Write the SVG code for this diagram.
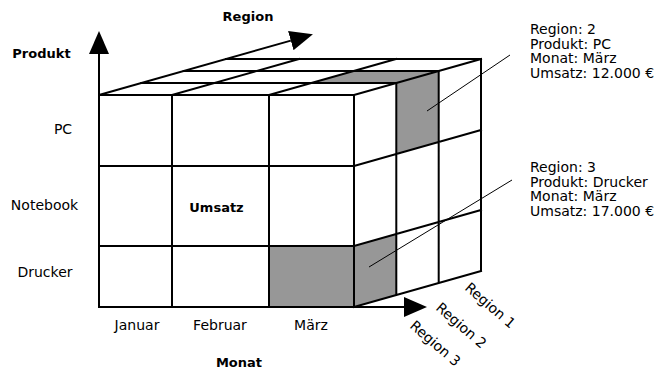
<svg xmlns="http://www.w3.org/2000/svg" width="660" height="370" viewBox="0 0 660 370">
  <style>
    .edge { fill: none; stroke: #000; stroke-width: 2; stroke-linecap: square; }
    .cell { fill: #979797; stroke: none; }
    .lead { fill: none; stroke: #000; stroke-width: 1; }
    .axis { fill: none; stroke: #000; stroke-width: 2; marker-end: url(#head); }
    text { font-family: "DejaVu Sans", "Liberation Sans", sans-serif; font-size: 14px; fill: #000; }
    .bold { font-weight: bold; font-size: 13px; }
    .mid { text-anchor: middle; }
  </style>
  <defs>
    <marker id="head" markerUnits="userSpaceOnUse" markerWidth="23" markerHeight="20" refX="0" refY="10" orient="auto">
      <path d="M0,0 L23,10 L0,20 Z" fill="#000"/>
    </marker>
  </defs>

  <!-- highlighted cells -->
  <g id="highlight-pc-maerz-r2">
    <polygon class="cell" points="311.3,83 396.3,83 438.7,71 353.7,71"/>
    <polygon class="cell" points="396.3,83 438.7,71 438.7,142 396.3,154"/>
  </g>
  <g id="highlight-drucker-maerz-r3">
    <rect class="cell" x="269" y="246" width="85" height="61"/>
    <polygon class="cell" points="354,246 396.3,234 396.3,295 354,307"/>
  </g>

  <!-- cube grid -->
  <g id="cube">
    <!-- front face -->
    <rect class="edge" x="99" y="95" width="255" height="212"/>
    <path class="edge" d="M99,166 H354 M99,246 H354 M172,95 V307 M269,95 V307"/>
    <!-- top face -->
    <path class="edge" d="M141.3,83 H396.3 M183.7,71 H438.7 M226,59 H481
                          M172,95 L299,59 M269,95 L396,59 M354,95 L481,59"/>
    <!-- right face -->
    <path class="edge" d="M396.3,83 V295 M438.7,71 V283 M481,59 V271
                          M354,166 L481,130 M354,246 L481,210 M354,307 L481,271"/>
  </g>

  <!-- axes -->
  <g id="axes">
    <line class="axis" x1="99" y1="95" x2="99" y2="54"/>
    <line class="axis" x1="99" y1="95" x2="290.8" y2="40.6"/>
    <line class="axis" x1="354" y1="307" x2="404" y2="307"/>
  </g>

  <!-- axis titles -->
  <g id="axis-titles">
    <text class="bold mid" x="248" y="21">Region</text>
    <text class="bold mid" x="41.5" y="58">Produkt</text>
    <text class="bold mid" x="239" y="367">Monat</text>
    <text class="bold mid" x="216.5" y="212">Umsatz</text>
  </g>

  <!-- product rows -->
  <g id="rows">
    <text class="mid" x="63" y="134">PC</text>
    <text class="mid" x="44.5" y="210">Notebook</text>
    <text class="mid" x="45" y="277">Drucker</text>
  </g>

  <!-- month columns -->
  <g id="months">
    <text class="mid" x="137" y="330">Januar</text>
    <text class="mid" x="220" y="330">Februar</text>
    <text class="mid" x="311" y="330">März</text>
  </g>

  <!-- region slices -->
  <g id="regions">
    <text transform="translate(464,289) rotate(41)">Region 1</text>
    <text transform="translate(435,309) rotate(41)">Region 2</text>
    <text transform="translate(409,327) rotate(41)">Region 3</text>
  </g>

  <!-- callouts -->
  <g id="callout-1">
    <line class="lead" x1="427" y1="111" x2="510" y2="55"/>
    <text x="530" y="34">Region: 2</text>
    <text x="530" y="48.7">Produkt: PC</text>
    <text x="530" y="63.4">Monat: März</text>
    <text x="530" y="78">Umsatz: 12.000 €</text>
  </g>
  <g id="callout-2">
    <line class="lead" x1="369" y1="267" x2="512" y2="180"/>
    <text x="530" y="172">Region: 3</text>
    <text x="530" y="186.7">Produkt: Drucker</text>
    <text x="530" y="201.4">Monat: März</text>
    <text x="530" y="216">Umsatz: 17.000 €</text>
  </g>
</svg>
